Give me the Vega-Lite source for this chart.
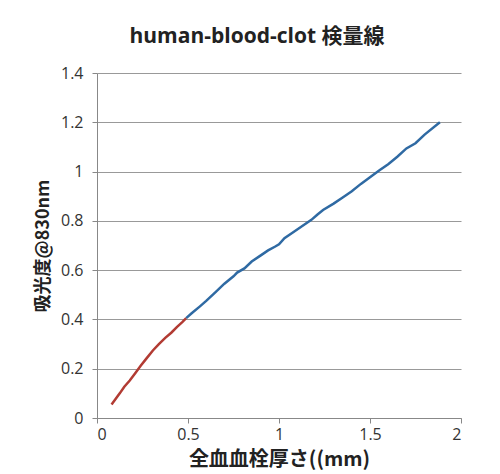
{
  "$schema": "https://vega.github.io/schema/vega-lite/v6.json",
  "width": 364,
  "height": 345,
  "autosize": "none",
  "padding": {"left": 97, "top": 73, "right": 39, "bottom": 56},
  "background": "white",
  "title": {
    "text": "human-blood-clot 検量線",
    "font": "Open Sans, Noto Sans CJK JP",
    "fontSize": 21,
    "fontWeight": "bold",
    "color": "#222222",
    "anchor": "middle",
    "dx": -22,
    "offset": 18
  },
  "config": {
    "view": {"stroke": null},
    "axis": {
      "labelFont": "Open Sans",
      "labelFontSize": 16,
      "labelColor": "#333333",
      "titleFont": "Noto Sans CJK JP",
      "titleFontWeight": "bold",
      "titleColor": "#222222",
      "domainColor": "#888888",
      "tickColor": "#888888",
      "tickSize": 5,
      "gridColor": "#999999",
      "gridWidth": 1
    }
  },
  "data": {
    "values": [
      {"x": 0.08, "y": 0.055, "s": "low"},
      {"x": 0.10, "y": 0.075, "s": "low"},
      {"x": 0.125, "y": 0.10, "s": "low"},
      {"x": 0.15, "y": 0.127, "s": "low"},
      {"x": 0.18, "y": 0.152, "s": "low"},
      {"x": 0.21, "y": 0.182, "s": "low"},
      {"x": 0.24, "y": 0.212, "s": "low"},
      {"x": 0.27, "y": 0.24, "s": "low"},
      {"x": 0.307, "y": 0.274, "s": "low"},
      {"x": 0.34, "y": 0.30, "s": "low"},
      {"x": 0.375, "y": 0.325, "s": "low"},
      {"x": 0.408, "y": 0.346, "s": "low"},
      {"x": 0.44, "y": 0.37, "s": "low"},
      {"x": 0.47, "y": 0.39, "s": "low"},
      {"x": 0.49, "y": 0.405, "s": "low"},
      {"x": 0.49, "y": 0.405, "s": "high"},
      {"x": 0.52, "y": 0.425, "s": "high"},
      {"x": 0.564, "y": 0.452, "s": "high"},
      {"x": 0.60, "y": 0.475, "s": "high"},
      {"x": 0.65, "y": 0.51, "s": "high"},
      {"x": 0.70, "y": 0.545, "s": "high"},
      {"x": 0.75, "y": 0.575, "s": "high"},
      {"x": 0.77, "y": 0.59, "s": "high"},
      {"x": 0.81, "y": 0.607, "s": "high"},
      {"x": 0.85, "y": 0.635, "s": "high"},
      {"x": 0.90, "y": 0.66, "s": "high"},
      {"x": 0.94, "y": 0.68, "s": "high"},
      {"x": 0.977, "y": 0.695, "s": "high"},
      {"x": 1.0, "y": 0.705, "s": "high"},
      {"x": 1.03, "y": 0.73, "s": "high"},
      {"x": 1.08, "y": 0.755, "s": "high"},
      {"x": 1.13, "y": 0.78, "s": "high"},
      {"x": 1.178, "y": 0.804, "s": "high"},
      {"x": 1.21, "y": 0.825, "s": "high"},
      {"x": 1.242, "y": 0.844, "s": "high"},
      {"x": 1.30, "y": 0.87, "s": "high"},
      {"x": 1.35, "y": 0.895, "s": "high"},
      {"x": 1.40, "y": 0.92, "s": "high"},
      {"x": 1.45, "y": 0.95, "s": "high"},
      {"x": 1.50, "y": 0.977, "s": "high"},
      {"x": 1.554, "y": 1.006, "s": "high"},
      {"x": 1.60, "y": 1.03, "s": "high"},
      {"x": 1.65, "y": 1.06, "s": "high"},
      {"x": 1.70, "y": 1.094, "s": "high"},
      {"x": 1.75, "y": 1.115, "s": "high"},
      {"x": 1.80, "y": 1.15, "s": "high"},
      {"x": 1.884, "y": 1.20, "s": "high"}
    ]
  },
  "mark": {"type": "line", "strokeWidth": 2.5},
  "encoding": {
    "x": {
      "field": "x",
      "type": "quantitative",
      "scale": {"domain": [0, 2]},
      "axis": {
        "title": "全血血栓厚さ((mm)",
        "titleFontSize": 20,
        "values": [0, 0.5, 1, 1.5, 2],
        "format": "~g",
        "grid": false,
        "labelPadding": 3,
        "titlePadding": 7
      }
    },
    "y": {
      "field": "y",
      "type": "quantitative",
      "scale": {"domain": [0, 1.4]},
      "axis": {
        "title": "吸光度@830nm",
        "titleFontSize": 18,
        "values": [0, 0.2, 0.4, 0.6, 0.8, 1, 1.2, 1.4],
        "format": "~g",
        "labelPadding": 9,
        "titlePadding": 8
      }
    },
    "color": {
      "field": "s",
      "type": "nominal",
      "scale": {"domain": ["low", "high"], "range": ["#b23b33", "#2f6aa3"]},
      "legend": null
    }
  }
}
